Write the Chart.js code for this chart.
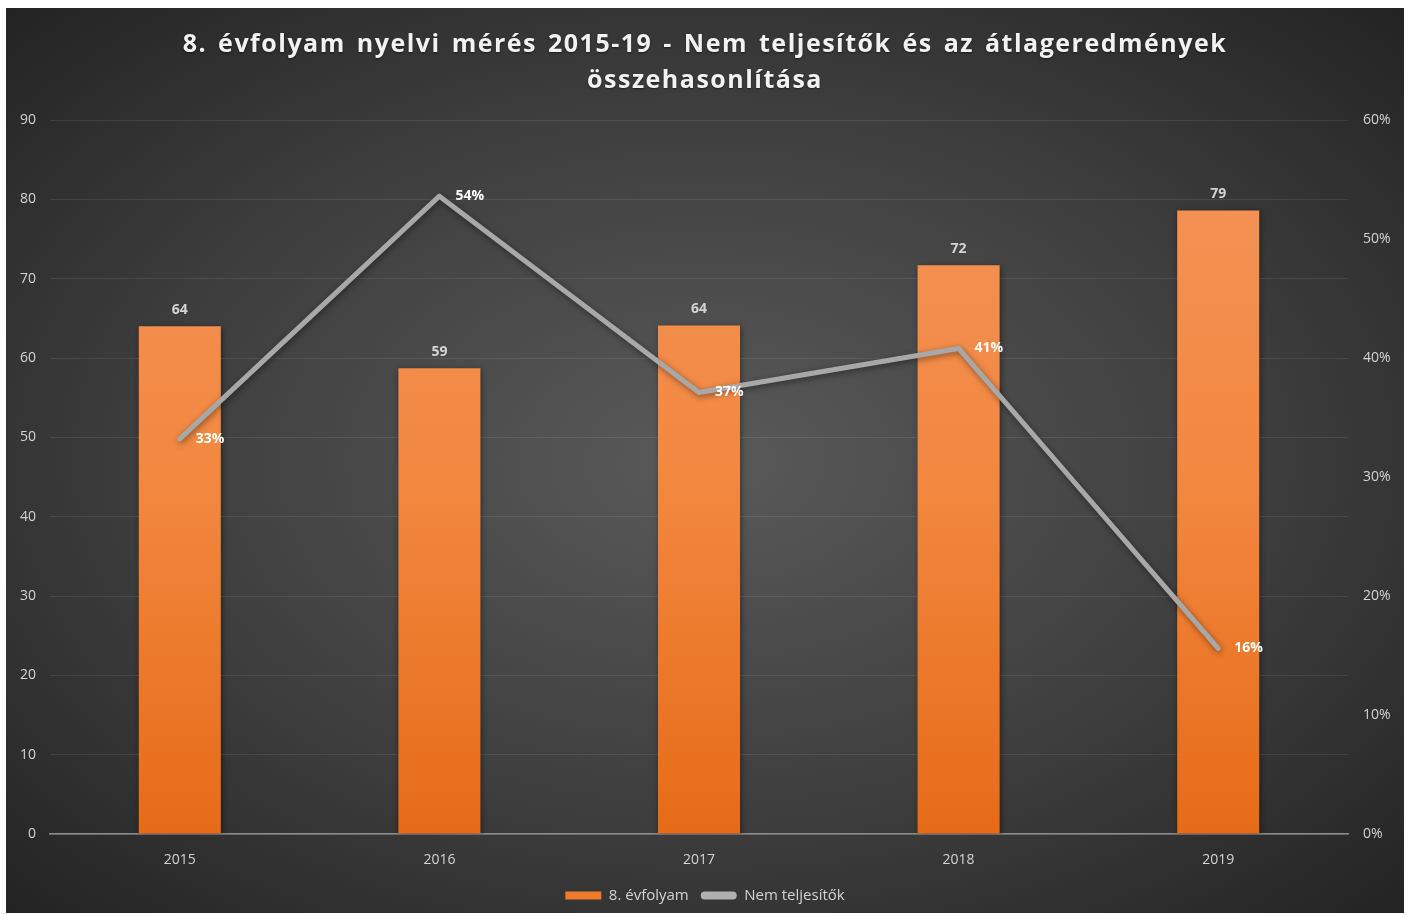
<!DOCTYPE html>
<html>
<head>
<meta charset="utf-8">
<script src="https://cdn.jsdelivr.net/npm/chart.js@4/dist/chart.umd.min.js"></script>
<style>
    body { margin: 0; background: #fff; }
    #wrap {
        position: absolute; left: 6px; top: 8px; width: 1398px; height: 905px;
        background: radial-gradient(ellipse farthest-corner at 50% 50%, #5a5a5a 0%, #3e3e3e 55%, #232323 100%);
    }
    #title {
        position: absolute; left: 0; top: 16px; width: 100%; text-align: center;
        font-family: "Open Sans", sans-serif; font-weight: bold; font-size: 25px;
        letter-spacing: 1.5px; word-spacing: 3px; line-height: 36px; color: #f2f2f2;
        text-shadow: 0 1px 2px rgba(0,0,0,0.5);
    }
    canvas { position: absolute; left: 0; top: 0; }
</style>
</head>
<body>
<div id="wrap">
    <canvas id="chart" width="1398" height="905"></canvas>
    <div id="title">8. évfolyam nyelvi mérés 2015-19 - Nem teljesítők és az átlageredmények<br>összehasonlítása</div>
</div>
<script>
// data
const years = ["2015", "2016", "2017", "2018", "2019"];
const avgScores = [64.0, 58.7, 64.1, 71.7, 78.6];     // 8. évfolyam (left axis)
const failRates = [33.2, 53.6, 37.1, 40.8, 15.6];     // Nem teljesítők, % (right axis)
const leftTicks = [0, 10, 20, 30, 40, 50, 60, 70, 80, 90];
const rightTicks = [0, 10, 20, 30, 40, 50, 60];

const labelColor = "#d4d4d4";

// value labels over bars / next to points
const valueLabels = {
    id: "valueLabels",
    afterDatasetsDraw(chart) {
        const ctx = chart.ctx;
        ctx.save();
        ctx.font = "bold 14px 'Open Sans', sans-serif";
        chart.getDatasetMeta(0).data.forEach((bar, i) => {
            ctx.fillStyle = labelColor;
            ctx.textAlign = "center";
            ctx.textBaseline = "bottom";
            ctx.fillText(Math.round(avgScores[i]), bar.x, bar.y - 9);
        });
        chart.getDatasetMeta(1).data.forEach((pt, i) => {
            ctx.fillStyle = "#ffffff";
            ctx.textAlign = "left";
            ctx.textBaseline = "middle";
            ctx.fillText(Math.round(failRates[i]) + "%", pt.x + 16, pt.y);
        });
        ctx.restore();
    }
};

// soft shadow under bars and the line
const shadows = {
    id: "shadows",
    beforeDatasetDraw(chart, args) {
        const ctx = chart.ctx;
        ctx.save();
        ctx.shadowColor = "rgba(0,0,0,0.45)";
        ctx.shadowBlur = 6;
        ctx.shadowOffsetX = 1;
        ctx.shadowOffsetY = 2;
    },
    afterDatasetDraw(chart) {
        chart.ctx.restore();
    }
};

function barGradient(context) {
    const area = context.chart.chartArea;
    if (!area) return "#ef7d2e";
    const g = context.chart.ctx.createLinearGradient(0, area.top, 0, area.bottom);
    g.addColorStop(0, "#f4935a");
    g.addColorStop(0.5, "#f28840");
    g.addColorStop(1, "#e66b18");
    return g;
}

new Chart(document.getElementById("chart"), {
    data: {
        labels: years,
        datasets: [
            {
                type: "bar", label: "8. évfolyam", data: avgScores, yAxisID: "y",
                backgroundColor: barGradient, borderWidth: 0,
                categoryPercentage: 1, barPercentage: 0.316, order: 2
            },
            {
                type: "line", label: "Nem teljesítők", data: failRates, yAxisID: "y1",
                borderColor: "#a8a8a8", backgroundColor: "#b4b4b4", borderWidth: 5,
                borderCapStyle: "round", borderJoinStyle: "round",
                pointRadius: 0, tension: 0, order: 1
            }
        ]
    },
    options: {
        responsive: false,
        animation: false,
        layout: { padding: { top: 112, left: 0, right: 0, bottom: 0 } },
        plugins: {
            title: { display: false },
            tooltip: { enabled: false },
            legend: {
                position: "bottom",
                labels: {
                    color: labelColor,
                    font: { family: "'Open Sans', sans-serif", size: 15 },
                    boxWidth: 36, boxHeight: 8, padding: 12,
                    sort: (a, b) => a.datasetIndex - b.datasetIndex,
                    generateLabels(chart) {
                        return [
                            { text: "8. évfolyam", fillStyle: "#ee7a2c", strokeStyle: "#ee7a2c", lineWidth: 0, datasetIndex: 0, fontColor: labelColor },
                            { text: "Nem teljesítők", fillStyle: "#b0b0b0", strokeStyle: "#b0b0b0", lineWidth: 0, datasetIndex: 1, fontColor: labelColor, borderRadius: 4 }
                        ];
                    },
                    useBorderRadius: true, borderRadius: 0
                }
            }
        },
        scales: {
            x: {
                grid: { display: false },
                border: { display: true, color: "#8e8e8e", width: 1.5 },
                ticks: { color: labelColor, font: { family: "'Open Sans', sans-serif", size: 14 }, padding: 10 },
                afterFit(scale) { scale.height = 42; }
            },
            y: {
                position: "left", min: 0, max: 90,
                afterBuildTicks(scale) { scale.ticks = leftTicks.map(v => ({ value: v })); },
                grid: { color: "rgba(255,255,255,0.09)", lineWidth: 1, drawTicks: false },
                border: { display: false },
                ticks: { color: labelColor, font: { family: "'Open Sans', sans-serif", size: 14 }, padding: 14 },
                afterFit(scale) { scale.width = 44; }
            },
            y1: {
                position: "right", min: 0, max: 60,
                afterBuildTicks(scale) { scale.ticks = rightTicks.map(v => ({ value: v })); },
                grid: { display: false, drawTicks: false },
                border: { display: false },
                ticks: {
                    color: labelColor, font: { family: "'Open Sans', sans-serif", size: 14 }, padding: 15,
                    callback: v => v + "%"
                },
                afterFit(scale) { scale.width = 56; }
            }
        }
    },
    plugins: [shadows, valueLabels]
});
</script>
</body>
</html>
